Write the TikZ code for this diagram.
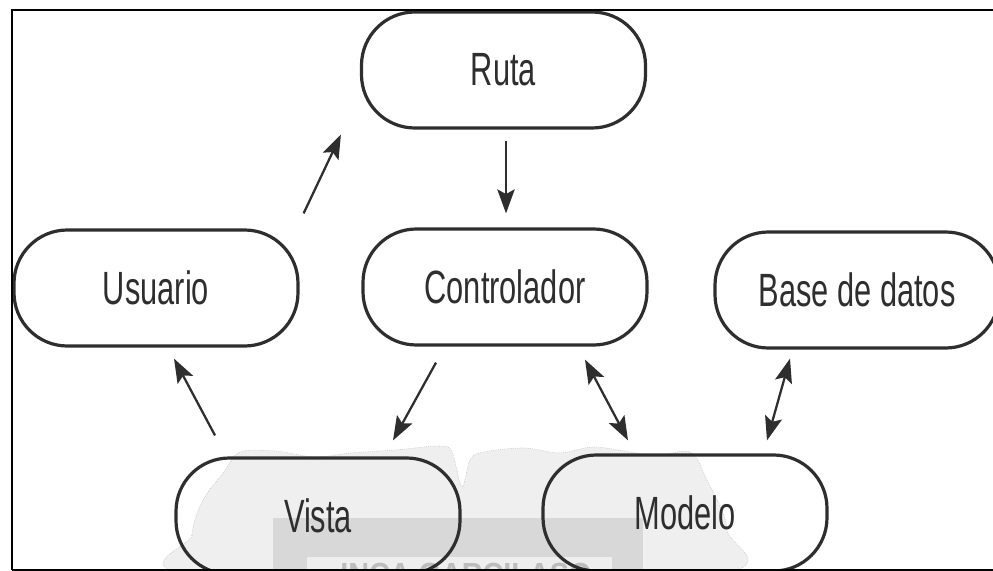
\documentclass[tikz,border=0pt]{standalone}
\usepackage{fontspec}
\usetikzlibrary{arrows.meta,calc}
\newfontfamily\lblfont[FakeStretch=0.66]{Liberation Sans}
\newfontfamily\markfont[FakeStretch=0.9]{Liberation Sans Bold}
\definecolor{ink}{HTML}{2E2E2E}
\definecolor{cloudgray}{HTML}{EFEFEF}
\definecolor{bandgray}{HTML}{D8D8D8}
\definecolor{innergray}{HTML}{EEEEEE}
\definecolor{marktext}{HTML}{BDBDBD}
\begin{document}
\begin{tikzpicture}[x=0.75pt,y=-0.75pt,
  stage/.style={draw=ink,line width=2.4pt,rounded corners=40pt,
    minimum width=213pt,minimum height=87pt,inner sep=0pt,
    text=ink,font=\lblfont\fontsize{35}{40}\selectfont},
  tip/.style={Stealth[length=18pt,width=13pt,inset=3.5pt]},
  arr/.style={draw=ink,line width=1.7pt,-{Stealth[length=18pt,width=13pt,inset=3.5pt]}},
  biarr/.style={draw=ink,line width=1.7pt,
    {Stealth[length=18pt,width=13pt,inset=3.5pt]}-{Stealth[length=18pt,width=13pt,inset=3.5pt]}},
  frameline/.style={draw=black,line width=1.5pt}]
\useasboundingbox (0,0) rectangle (993,571);

% faint stamp in the background
\begin{scope}
\clip (0,0) rectangle (993,571);
\fill[cloudgray,draw=gray!60,densely dotted,line width=0.4pt]
  plot[smooth cycle,tension=0.55] coordinates {
    (200,575) (192,535) (203,500) (224,472) (240,452) (275,451)
    (315,457) (350,453) (395,450) (440,446) (452,452) (462,487)
    (471,458) (490,451) (525,448) (560,453) (592,447) (625,451)
    (655,456) (690,452) (706,478) (727,530) (706,575)};
\fill[bandgray] (273,518) rectangle (643,580);
\fill[innergray] (307,557) rectangle (612,580);
\node[anchor=north west,inner sep=0pt,text=marktext,
  font=\markfont\fontsize{24}{28}\selectfont] (stamp) at (340,563)
  {INCA GARCILASO};
\end{scope}

% stages
\node[stage] (ruta) at (503.5,70) {Ruta};
\node[stage] (usr) at (156,288) {Usuario};
\node[stage] (ctrl) at (505,287) {Controlador};
\node[stage] (bd) at (857,290) {Base de datos};
\node[stage] (vista) at (318,516) {Vista};
\node[stage] (modelo) at (685,513) {Modelo};

% flow
\draw[arr] ($(usr.north east)+(4,-15)$) -- ($(ruta.south west)+(-19,5)$);
\draw[arr] ($(ruta.south)+(2.5,11)$) -- ($(ctrl.north)+(1,-14)$);
\draw[arr] ($(ctrl.south)+(-69,16)$) -- ($(vista.north)+(75,-16)$);
\draw[biarr] ($(ctrl.south)+(80,13)$) -- ($(modelo.north)+(-57,-13)$);
\draw[biarr] ($(bd.south)+(-67,9)$) -- ($(modelo.north)+(82,-13)$);
\draw[arr] ($(vista.north)+(-103,-21)$) -- ($(usr.south)+(18,11)$);

% frame
\coordinate (ftl) at (11.5,10);
\coordinate (ftr) at (993,10);
\coordinate (fbl) at (11.5,570);
\coordinate (fbr) at (993,570);
\draw[frameline] (ftr) -- (ftl) -- (fbl);
\draw[frameline] (fbl) -- (fbr);
\end{tikzpicture}
\end{document}
